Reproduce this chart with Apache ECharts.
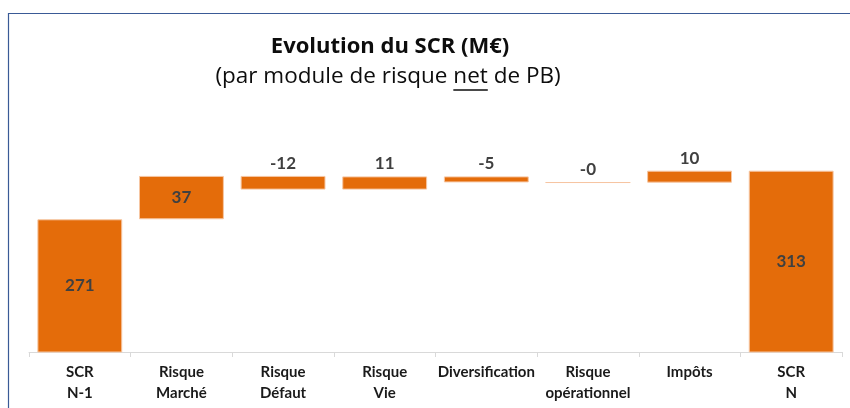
<!DOCTYPE html>
<html>
<head>
<meta charset="utf-8">
<script src="https://cdn.jsdelivr.net/npm/echarts@6/dist/echarts.min.js"></script>
<style>
  html, body { margin: 0; padding: 0; background: #fff; }
  #chart { width: 850px; height: 408px; }
</style>
</head>
<body>
<div id="chart"></div>
<script>
// waterfall data (M€)
const categories = ['SCR\nN-1', 'Risque\nMarché', 'Risque\nDéfaut', 'Risque\nVie', 'Diversification', 'Risque\nopérationnel', 'Impôts', 'SCR\nN'];
const deltas = [271.4, 37.4, -11.8, 11.4, -5.2, -0.2, 10.3, 313.3];
const isTotal = [true, false, false, false, false, false, false, true];
const labelInside = [true, true, false, false, false, false, false, true];

const ORANGE = '#e46c0a';
const TITLE = 'Evolution du SCR (M€)';
const SUB_PRE = '(par module de risque ', SUB_NET = 'net', SUB_POST = ' de PB)';
const SUB_FONT = '22.5px "Open Sans"';

// running totals -> invisible base + visible part
const baseData = [];
const barData = [];
let level = 0;
deltas.forEach((d, i) => {
  if (isTotal[i]) {
    baseData.push(0);
    barData.push(d);
    level = d;
  } else {
    const end = level + d;
    baseData.push(Math.min(level, end));
    barData.push(Math.abs(d));
    level = end;
  }
});

// measure subtitle to put the underline under "net"
const ctx = document.createElement('canvas').getContext('2d');
ctx.font = SUB_FONT;
const wPre = ctx.measureText(SUB_PRE).width;
const wNet = ctx.measureText(SUB_NET).width;
const wAll = ctx.measureText(SUB_PRE + SUB_NET + SUB_POST).width;
const subX = 388;
const ulX1 = subX - wAll / 2 + wPre;

const myChart = echarts.init(document.getElementById('chart'));

const option = {
  backgroundColor: '#fff',
  animation: false,
  graphic: [
    // outer frame
    { type: 'rect', shape: { x: 8.5, y: 13.5, width: 900, height: 500 }, style: { fill: 'none', stroke: '#3a5a96', lineWidth: 1.2 }, silent: true },
    { type: 'text', x: 390, y: 47,
      style: { text: TITLE, font: 'bold 22px "Open Sans"', fill: '#0d0d0d', align: 'center', verticalAlign: 'middle' } },
    { type: 'text', x: subX, y: 77,
      style: { text: SUB_PRE + SUB_NET + SUB_POST, font: SUB_FONT, fill: '#0d0d0d', align: 'center', verticalAlign: 'middle' } },
    // underline of "net"
    { type: 'line', shape: { x1: ulX1, y1: 90, x2: ulX1 + wNet, y2: 90 }, style: { stroke: '#0d0d0d', lineWidth: 1.3 }, silent: true }
  ],
  grid: { left: 29, right: 8, top: 120, bottom: 56 },
  xAxis: {
    type: 'category',
    data: categories,
    axisLine: { lineStyle: { color: '#d9d9d9', width: 1 } },
    axisTick: { show: true, length: 5, lineStyle: { color: '#d9d9d9' } },
    axisLabel: {
      interval: 0, margin: 10,
      fontFamily: 'Lato', fontWeight: 'bold', fontSize: 15, lineHeight: 21, color: '#1a1a1a'
    }
  },
  yAxis: {
    type: 'value', min: 157, max: 357, show: false,
    splitLine: { show: false }
  },
  series: [
    {
      type: 'bar', stack: 'wf', data: baseData, silent: true,
      itemStyle: { color: 'transparent' }, barCategoryGap: '16.5%'
    },
    {
      type: 'bar', stack: 'wf', barCategoryGap: '16.5%',
      data: barData.map((v, i) => ({
        value: v,
        label: { position: labelInside[i] ? 'inside' : 'top' }
      })),
      itemStyle: { color: ORANGE, borderColor: '#f6c6a2', borderWidth: 1 },
      label: {
        show: true, distance: 4,
        fontFamily: 'Lato', fontWeight: 'bold', fontSize: 17, color: '#404040',
        formatter: p => deltas[p.dataIndex].toFixed(0)
      }
    }
  ]
};
myChart.setOption(option);
window.addEventListener('resize', () => myChart.resize());
</script>
</body>
</html>
